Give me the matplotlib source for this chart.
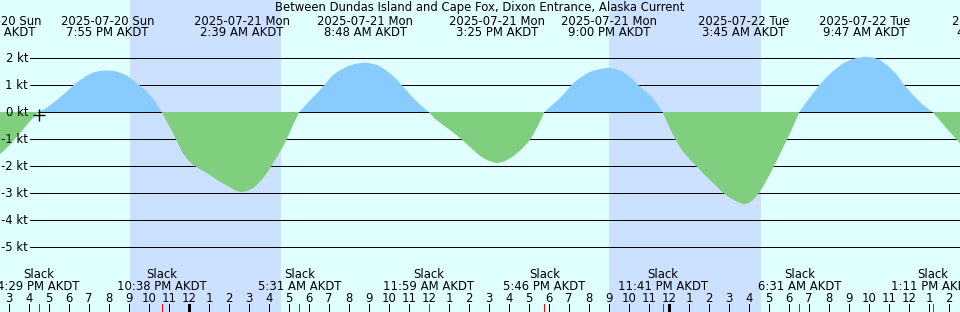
import matplotlib
matplotlib.use("Agg")
import matplotlib.pyplot as plt
import matplotlib.transforms as mtransforms
import numpy as np
import pandas as pd

title = "Between Dundas Island and Cape Fox, Dixon Entrance, Alaska Current"
origin = pd.Timestamp("2025-07-20 00:00")

# max flood / max ebb times (labels along the top)
max_events = ["2025-07-20 2:16 PM", "2025-07-20 7:55 PM", "2025-07-21 2:39 AM",
              "2025-07-21 8:48 AM", "2025-07-21 3:25 PM", "2025-07-21 9:00 PM",
              "2025-07-22 3:45 AM", "2025-07-22 9:47 AM", "2025-07-22 4:27 PM"]
# slack water (labels along the bottom, red ticks)
slack_events = ["2025-07-20 4:29 PM", "2025-07-20 10:38 PM", "2025-07-21 5:31 AM",
                "2025-07-21 11:59 AM", "2025-07-21 5:46 PM", "2025-07-21 11:41 PM",
                "2025-07-22 6:31 AM", "2025-07-22 1:11 PM"]
night_start = ["2025-07-20 9:03 PM", "2025-07-21 9:00 PM"]
night_end = ["2025-07-21 4:36 AM", "2025-07-22 4:37 AM"]

# current speed: hours after 2025-07-20 00:00, knots
speed_hours = [14.55, 15.0, 15.55, 16.0, 16.48,
               16.88, 17.4, 17.88, 18.2, 18.55, 18.9, 19.2, 19.55, 19.92, 20.25,
               20.55, 20.9, 21.2, 21.55, 21.9, 22.3, 22.63,
               22.9, 23.2, 23.45, 23.7, 23.95, 24.2, 24.55, 24.9, 25.2, 25.55,
               25.9, 26.2, 26.45, 26.65, 26.9, 27.2, 27.45, 27.7, 27.95, 28.2,
               28.45, 28.7, 28.95, 29.2, 29.52,
               30.0, 30.55, 30.9, 31.2, 31.55, 31.9, 32.35, 32.8, 33.1, 33.4,
               33.75, 34.05, 34.4, 34.7, 35.05, 35.4, 35.98,
               36.3, 36.7, 37.1, 37.55, 38.05, 38.55, 38.95, 39.42, 39.8, 40.2,
               40.6, 41.05, 41.3, 41.55, 41.77,
               42.15, 42.55, 42.9, 43.2, 43.55, 43.9, 44.2, 44.55, 45.0, 45.35,
               45.7, 46.1, 46.55, 46.9, 47.2, 47.68,
               47.95, 48.2, 48.45, 48.7, 49.05, 49.4, 49.7, 50.05, 50.4, 50.7,
               51.05, 51.4, 51.75, 51.95, 52.2, 52.45, 52.7, 53.05, 53.4, 53.75,
               54.05, 54.3, 54.52,
               54.85, 55.2, 55.55, 55.9, 56.3, 56.7, 57.2, 57.78, 58.2, 58.55,
               59.0, 59.4, 59.7, 60.05, 60.4, 60.7, 61.18,
               61.85, 62.55]
speed_kt = [-1.56, -1.25, -0.78, -0.38, 0.0,
            0.15, 0.45, 0.75, 0.98, 1.18, 1.35, 1.46, 1.52, 1.54, 1.52,
            1.46, 1.34, 1.18, 0.98, 0.75, 0.4, 0.0,
            -0.38, -0.78, -1.17, -1.53, -1.78, -1.96, -2.12, -2.26, -2.41, -2.58,
            -2.73, -2.86, -2.94, -2.97, -2.93, -2.83, -2.66, -2.45, -2.2, -1.9,
            -1.6, -1.28, -0.9, -0.48, 0.0,
            0.4, 0.81, 1.12, 1.37, 1.55, 1.68, 1.79, 1.83, 1.8, 1.74,
            1.6, 1.43, 1.2, 0.94, 0.65, 0.38, 0.0,
            -0.25, -0.48, -0.7, -0.96, -1.3, -1.63, -1.8, -1.9, -1.82, -1.65,
            -1.4, -1.04, -0.72, -0.36, 0.0,
            0.25, 0.51, 0.8, 1.06, 1.27, 1.43, 1.53, 1.59, 1.64, 1.59,
            1.49, 1.27, 0.94, 0.72, 0.51, 0.0,
            -0.45, -0.85, -1.18, -1.47, -1.77, -2.02, -2.27, -2.52, -2.77, -2.99,
            -3.18, -3.32, -3.42, -3.38, -3.26, -3.05, -2.77, -2.3, -1.78, -1.25,
            -0.78, -0.38, 0.0,
            0.35, 0.69, 1.02, 1.31, 1.58, 1.8, 1.97, 2.05, 2.02, 1.93,
            1.68, 1.37, 1.06, 0.75, 0.48, 0.26, 0.0,
            -0.58, -1.16]
kt_levels = [2, 1, 0, -1, -2, -3, -4, -5]

day_col = "#e0ffff"
night_col = "#cce0ff"
flood_col = "#88ccff"
ebb_col = "#7fcf7f"

W, H = 960, 312
px = 0.72  # one pixel in points at dpi 100


def hours(s):
    return (pd.Timestamp(s) - origin) / pd.Timedelta(hours=1)


def clock(s):
    ts = pd.Timestamp(s)
    ap = "AM" if ts.hour < 12 else "PM"
    return f"{ts.hour % 12 or 12}:{ts.minute:02d} {ap} AKDT"


plt.rcParams["font.family"] = "DejaVu Sans"
plt.rcParams["font.size"] = 8.4

fig = plt.figure(figsize=(W / 100, H / 100), dpi=100, facecolor=day_col)
ax = fig.add_axes([0, 0, 1, 1])
ax.set_axis_off()
x0 = 14.55
ax.set_xlim(x0, x0 + 48)
ax.set_ylim((112 - H) / 27, 112 / 27)

# x in hours, y in pixels from the top
trans = mtransforms.blended_transform_factory(ax.transData, fig.transFigure)
def fy(p):
    return 1 - p / H

for a, b in zip(night_start, night_end):
    ax.axvspan(hours(a), hours(b), color=night_col, lw=0, zorder=1)

ylab = mtransforms.blended_transform_factory(ax.transAxes, ax.transData)
for k in kt_levels:
    ax.axhline(k, xmin=30 / W, xmax=1, color="black", lw=px, zorder=2, snap=True)
    ax.text(28 / W, k, f"{k} kt", transform=ylab, ha="right", va="center", zorder=10)

t = np.array(speed_hours)
v = np.array(speed_kt)
ax.fill_between(t, v, 0, where=v >= 0, interpolate=True, color=flood_col, lw=0, zorder=3)
ax.fill_between(t, v, 0, where=v <= 0, interpolate=True, color=ebb_col, lw=0, zorder=5)

plus = mtransforms.offset_copy(ax.transData, fig=fig, y=-3, units="dots")
ax.plot([hours(slack_events[0])], [0], marker="+", ms=8, mew=1, color="black",
        transform=plus, zorder=11)

# top labels
fig.text(0.5, fy(11), title, ha="center", va="baseline")
for e in max_events:
    ax.text(hours(e), fy(25), pd.Timestamp(e).strftime("%Y-%m-%d %a"),
            transform=trans, ha="center", va="baseline", clip_on=False, zorder=10)
    ax.text(hours(e), fy(36), clock(e), transform=trans, ha="center",
            va="baseline", clip_on=False, zorder=10)

# bottom labels
for e in slack_events:
    ax.text(hours(e), fy(278.3), "Slack", transform=trans, ha="center", va="baseline")
    ax.text(hours(e), fy(290), clock(e), transform=trans, ha="center", va="baseline")

hour_ticks = np.arange(15, 63)
for h in hour_ticks:
    ax.text(h, fy(301.7), str(h % 12 or 12), transform=trans, ha="center", va="baseline")
ax.vlines(hour_ticks[hour_ticks % 24 != 0], fy(304), 0, transform=trans,
          colors="black", lw=px, zorder=6, antialiased=False)
ax.vlines(hour_ticks[hour_ticks % 24 == 0], fy(304), 0, transform=trans,
          colors="black", lw=3 * px, zorder=6, antialiased=False)
ax.vlines([hours(e) for e in slack_events], fy(304), 0, transform=trans,
          colors="red", lw=px, zorder=7, antialiased=False)

fig.savefig("out.png", dpi=100, facecolor=day_col)
